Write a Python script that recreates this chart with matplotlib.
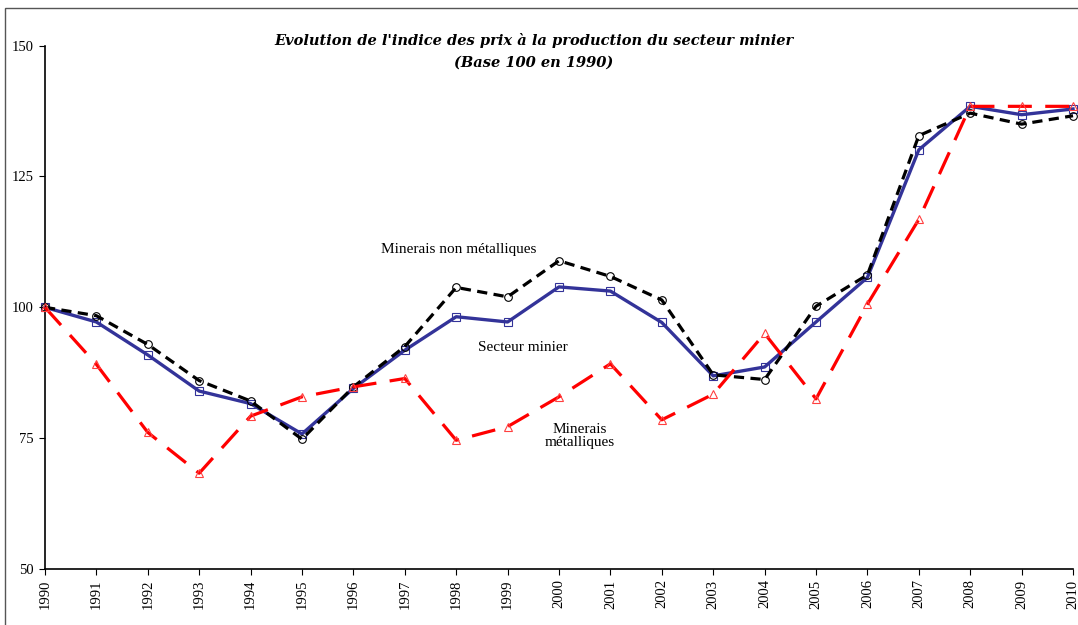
import matplotlib.pyplot as plt
from matplotlib.patches import Rectangle

# Indice des prix a la production, base 100 en 1990
annees = list(range(1990, 2011))
secteur_minier = [100, 97.2, 90.9, 84.0, 81.6, 75.8, 84.5, 91.8, 98.2, 97.2, 103.9,
                  103.1, 97.1, 86.9, 88.6, 97.2, 105.7, 130.1, 138.4, 136.8, 137.9]
non_metalliques = [100, 98.4, 92.9, 86.0, 82.1, 74.8, 84.8, 92.5, 103.8, 102.0, 108.9,
                   105.9, 101.4, 87.1, 86.2, 100.2, 106.2, 132.8, 137.1, 135.0, 136.6]
metalliques = [100, 89.1, 76.1, 68.3, 79.2, 82.9, 84.8, 86.4, 74.6, 77.2, 82.9,
               89.2, 78.5, 83.4, 95.0, 82.5, 100.6, 116.8, 138.4, 138.4, 138.4]

fig = plt.figure(figsize=(10.78, 6.25), dpi=100)
ax = fig.add_axes([0.0417, 0.0896, 0.9537, 0.8374])

# cadre de la zone graphique
fig.patches.append(Rectangle((0.0045, -0.01), 1.1, 0.997, transform=fig.transFigure,
                             fill=False, edgecolor='#555555', linewidth=1.0))

ax.plot(annees, secteur_minier, color='#333399', linewidth=2.4, marker='s',
        markersize=5.5, markerfacecolor='none', markeredgecolor='#333399',
        markeredgewidth=0.8, clip_on=False, zorder=3)
ax.plot(annees, non_metalliques, color='black', linewidth=2.3, dashes=(3.2, 2.0),
        marker='o', markersize=5.5, markerfacecolor='none', markeredgecolor='black',
        markeredgewidth=0.8, clip_on=False, zorder=4)
ax.plot(annees, metalliques, color='#FF0000', linewidth=2.3, dashes=(7.5, 4.2),
        marker='^', markersize=5.5, markerfacecolor='none', markeredgecolor='#FF4040',
        markeredgewidth=0.8, clip_on=False, zorder=5)

ax.set_xlim(1990, 2010)
ax.set_ylim(50, 150)
ax.set_yticks([50, 75, 100, 125, 150])
ax.set_xticks(annees)
ax.set_xticklabels([str(a) for a in annees], rotation=90)

for s in ['top', 'right']:
    ax.spines[s].set_visible(False)
for s in ['left', 'bottom']:
    ax.spines[s].set_linewidth(1.2)
ax.tick_params(axis='both', direction='out', length=4, width=0.8,
               labelsize=10.5, labelfontfamily='Liberation Serif')
ax.tick_params(axis='y', pad=4)

fs = dict(fontfamily='Liberation Serif', fontsize=11, color='black')
ax.text(1998.05, 111.0, 'Minerais non métalliques', ha='center', va='center', **fs)
ax.text(1999.3, 92.3, 'Secteur minier', ha='center', va='center', **fs)
ax.text(2000.4, 75.5, 'Minerais\nmétalliques', ha='center', va='center',
        linespacing=1.0, **fs)

titre = dict(ha='center', va='center', fontsize=10.5, fontweight='bold',
             fontstyle='italic', fontfamily='DejaVu Serif')
fig.text(0.495, 0.936, "Evolution de l'indice des prix à la production du secteur minier",
         **titre)
fig.text(0.495, 0.900, "(Base 100 en 1990)", **titre)

fig.savefig('out.png', dpi=100)
